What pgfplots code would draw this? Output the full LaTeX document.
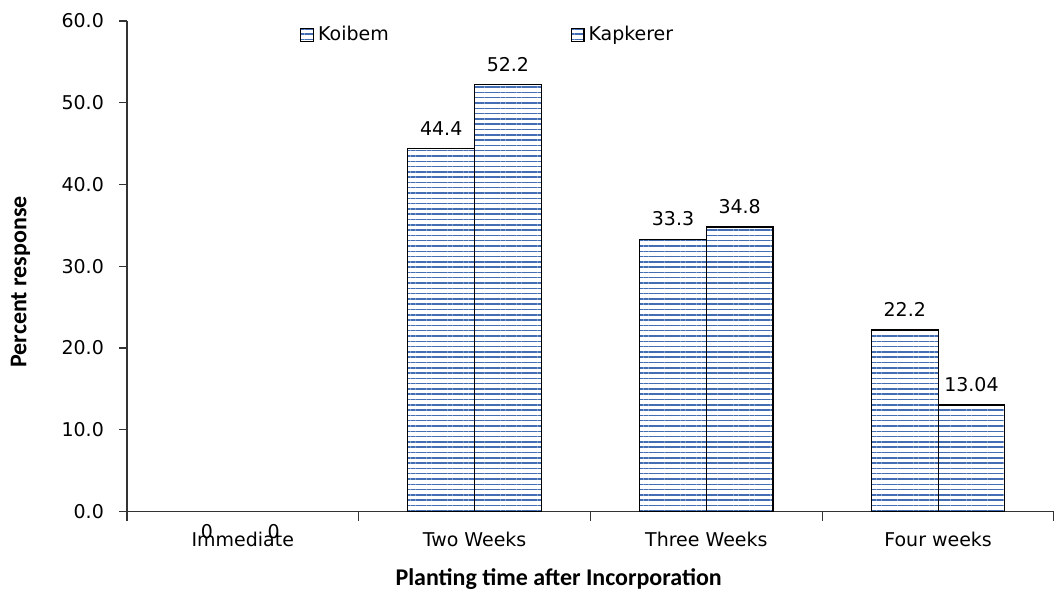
\documentclass[border=0pt]{standalone}
\usepackage{pgfplots}
\pgfplotsset{compat=1.18}
\usetikzlibrary{patterns.meta}
\usepackage{fontspec}
\setmainfont{DejaVu Sans}
\newfontfamily\carlito{Carlito}
\definecolor{stripe}{RGB}{68,110,180}

\begin{document}
\begin{tikzpicture}
\begin{axis}[
    scale only axis,
    width=464pt, height=245.5pt,
    xmin=-0.5, xmax=3.5,
    ymin=0, ymax=60,
    clip=false,
    axis lines*=left,
    axis line style={line width=0.7pt, black!80},
    tick align=outside,
    xtick={0,1,2,3},
    xticklabels={Immediate,Two Weeks,Three Weeks,Four weeks},
    major x tick style={draw=none},
    minor xtick={-0.5,0.5,1.5,2.5,3.5},
    minor tick length=4.5pt,
    minor x tick style={line width=0.7pt, black!80},
    ytick={0,10,...,60},
    major tick length=4pt,
    y tick style={line width=0.7pt, black!80},
    yticklabel style={/pgf/number format/.cd,fixed,fixed zerofill,precision=1, /tikz/.cd, font=\fontsize{9.5}{11}\selectfont, xshift=-4pt},
    /pgf/number format/assume math mode=true,
    xticklabel style={font=\fontsize{9.5}{11}\selectfont, yshift=-2.5pt},
    xlabel={\carlito\bfseries Planting time after Incorporation},
    ylabel={\carlito\bfseries Percent response},
    xlabel style={at={(axis description cs:0.4657,-0.1385)}, anchor=center, font=\fontsize{12}{14}\selectfont},
    ylabel style={at={(axis description cs:-0.1148,0.468)}, anchor=center, font=\fontsize{12}{14}\selectfont},
    ybar=0pt,
    bar width=0.2876,
    nodes near coords,
    point meta=explicit symbolic,
    every node near coord/.append style={font=\fontsize{9.5}{11}\selectfont, yshift=3pt},
    legend columns=2,
    legend style={draw=none, fill=none, at={(axis description cs:0.18,0.972)}, anchor=west,
        font=\fontsize{9.5}{11}\selectfont,
        /tikz/every even column/.append style={column sep=89pt}},
    legend image code/.code={\draw[#1] (0pt,-3.2pt) rectangle (6.4pt,3.2pt);},
]
% Immediate = 0 for both series: no visible bar, labels placed below
\addplot[draw=black, line width=0.6pt,
    pattern={Lines[angle=0,distance=2.65pt,line width=0.75pt]}, pattern color=stripe]
    coordinates {(1,44.4) [44.4] (2,33.3) [33.3] (3,22.2) [22.2]};
\addplot[draw=black, line width=0.6pt,
    pattern={Lines[angle=0,distance=2.65pt,line width=0.75pt]}, pattern color=stripe]
    coordinates {(1,52.2) [52.2] (2,34.8) [34.8] (3,13.04) [13.04]};
\legend{Koibem,Kapkerer}
\node[font=\fontsize{9.5}{11}\selectfont, anchor=north, inner sep=0pt] at (axis cs:-0.155,0) [yshift=-6pt] {0};
\node[font=\fontsize{9.5}{11}\selectfont, anchor=north, inner sep=0pt] at (axis cs:0.133,0) [yshift=-6pt] {0};
\coordinate (sw) at (rel axis cs:0,0);
\coordinate (ne) at (rel axis cs:1,1);
\end{axis}
\pgfresetboundingbox
\path ([xshift=-63.5pt,yshift=-42pt]sw) rectangle ([yshift=10.5pt]ne);
\end{tikzpicture}
\end{document}
